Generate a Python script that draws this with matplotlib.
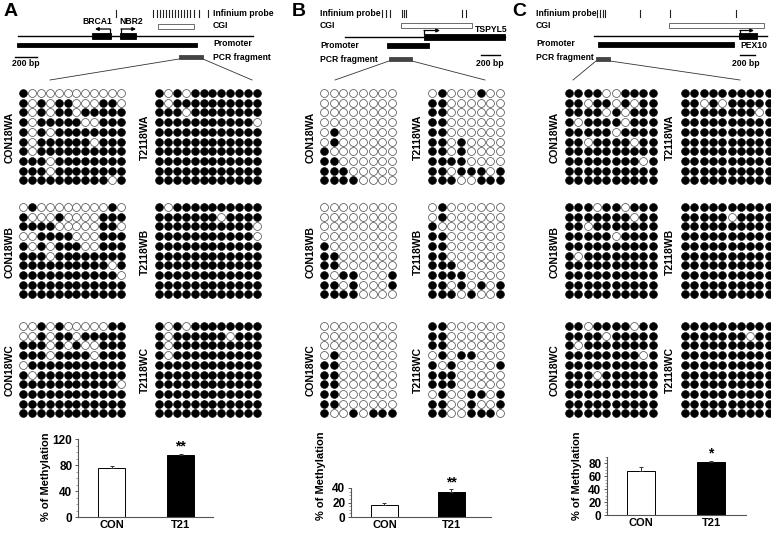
import numpy as np
import matplotlib
matplotlib.use("Agg")
import matplotlib.pyplot as plt
from matplotlib.patches import Rectangle

plt.rcParams['font.family'] = ['Liberation Sans', 'DejaVu Sans']
plt.rcParams['font.weight'] = 'bold'

# ---------------- data ----------------
groups = ["CON", "T21"]
A_means = [75, 96]
A_err = [4, 1]
B_means = [17, 34]
B_err = [3, 4]
C_means = [68, 82]
C_err = [6, 2]
sig_marks = ["**", "**", "*"]

# methylation patterns (1 = methylated / filled)
A_CON18WA = ["100000000000", "101011000110", "101011011111", "101111100111", "101011111111",
             "101111110111", "101111111111", "111011111111", "111011111111", "111111111101"]
A_T2118WA = ["101011111111", "101111111111", "111011111111", "111111111110", "111111111111",
             "111111111111", "111111111111", "111111111111", "111111111111", "111111111111"]
A_CON18WB = ["010000000010", "100010000111", "111100000110", "001111000111", "101011100111",
             "111011111111", "111111111101", "111111111110", "111111111111", "111111111111"]
A_T2118WB = ["101111111111", "111111101111", "111111111110", "111111111110", "111111111111",
             "111111111111", "111111111111", "111111111111", "111111111111", "111111111111"]
A_CON18WC = ["001010000011", "001011011111", "111010100111", "111011110111", "011111111111",
             "101111111111", "111111111110", "111111111111", "111111111111", "111111111111"]
A_T2118WC = ["101011111111", "101111110111", "101111111111", "101111111111", "111111111111",
             "111111111111", "111111111111", "111111111111", "111111111111", "111111111111"]

B_CON18WA = ["00000000", "00000000", "00000000", "00000000", "01000000",
             "01000000", "10000000", "11000000", "11100000", "11110000"]
B_T2118WA = ["01000100", "11000000", "11000000", "11000000", "11000000",
             "11010000", "11010000", "11110000", "11011101", "11100111"]
B_CON18WB = ["00000000", "00000000", "00000000", "00000000", "10000000",
             "11000000", "11000000", "10110001", "11010001", "11110000"]
B_T2118WB = ["01000000", "01000000", "10000000", "11000000", "11000000",
             "11000000", "11100000", "11110000", "11010101", "11101001"]
B_CON18WC = ["00000000", "00000000", "00000000", "01000000", "11000000",
             "11000000", "11000000", "11000000", "11000000", "10010111"]
B_T2118WC = ["11000000", "11000000", "11000000", "01011000", "10100001",
             "11100000", "11100000", "01001101", "11001001", "11001110"]

C_CON18WA = ["1111001111", "1101101011", "1111010111", "1011110111", "1111101111",
             "1101111011", "1111111111", "1111111101", "1111111111", "1111111111"]
C_T2118WA = ["1111111111", "1101011111", "1111111101", "1111111111", "1111111111",
             "1111111111", "1111111111", "1111111111", "1111111111", "1111111111"]
C_CON18WB = ["1110110111", "1111111011", "1101111111", "1111101111", "1111111111",
             "1011111111", "1111111111", "1111111111", "1111111111", "1111111111"]
C_T2118WB = ["1111111111", "1111101111", "1111111111", "1111111111", "1111111111",
             "1111111111", "1111111111", "1111111111", "1111111111", "1111111111"]
C_CON18WC = ["1101111011", "1111011111", "1011111111", "1111111101", "1111111111",
             "1110111111", "1111111111", "1111111111", "1111111111", "1111111111"]
C_T2118WC = ["1111111111", "1111111011", "1111111111", "1111111111", "1111111111",
             "1111111111", "1111111111", "1111111111", "1111111111", "1111111111"]

A_probes = [116, 153, 157, 160, 163, 166, 169, 172, 175, 178, 181, 184, 187, 190, 194, 199, 208]
B_probes = [382, 386, 390, 402, 404, 406, 462, 466]
C_probes = [597, 600, 603, 605, 640, 670, 736]

# ---------------- figure ----------------
W, H = 771, 533
fig = plt.figure(figsize=(W / 100, H / 100), dpi=100)
ax = fig.add_axes([0, 0, 1, 1])
ax.set_xlim(0, W)
ax.set_ylim(H, 0)
ax.axis('off')

LBL = 6.2


def txt(x, y, s, size=LBL, ha='left', va='center', **kw):
    ax.text(x, y, s, fontsize=size, ha=ha, va=va, fontweight='bold', **kw)


def rect(x0, x1, y0, y1, fc='black', ec='black', lw=0.6):
    ax.add_patch(Rectangle((x0, y0), x1 - x0, y1 - y0, facecolor=fc, edgecolor=ec, linewidth=lw))


def bent_arrow(x, y0, y1, x_end):
    ax.plot([x, x], [y0, y1], color='black', lw=0.9)
    ax.annotate('', xy=(x_end, y1), xytext=(x, y1),
                arrowprops=dict(arrowstyle='-|>', lw=0.9, color='black',
                                mutation_scale=5, shrinkA=0, shrinkB=0))


def probes(xs):
    for x in xs:
        ax.plot([x, x], [10, 17], color='#222222', lw=0.8)


def draw_grid(rows, x0, y0, dx, dy, s=32):
    arr = np.array([[int(c) for c in r] for r in rows])
    nr, nc = arr.shape
    jj, ii = np.meshgrid(np.arange(nc), np.arange(nr))
    xs = x0 + jj * dx
    ys = y0 + ii * dy
    f = arr == 1
    ax.scatter(xs[f], ys[f], s=s, c='black', edgecolors='black', linewidths=0.4, zorder=3)
    ax.scatter(xs[~f], ys[~f], s=s, facecolors='white', edgecolors='#444444', linewidths=0.5, zorder=3)


# ---- panel letters
for x, s in [(4, 'A'), (292, 'B'), (512, 'C')]:
    txt(x, 11, s, size=14)

# ---- panel A diagram
probes(A_probes)
txt(213, 13, 'Infinium probe')
txt(213, 26, 'CGI')
txt(213, 44, 'Promoter')
txt(213, 57, 'PCR fragment')
rect(158, 194, 24, 28.5, fc='white', ec='#555555')
ax.plot([18, 253], [36, 36], color='black', lw=1.0)
rect(92, 111, 33, 39)
rect(120, 136, 33, 39)
txt(97, 22, 'BRCA1', size=6.2, ha='center')
txt(131, 22, 'NBR2', size=6.2, ha='center')
bent_arrow(110, 33, 29, 95)
bent_arrow(121, 33, 29, 136)
rect(17, 197, 42.5, 47)
rect(179, 203, 54.5, 58.5, fc='#444444', ec='#444444')
ax.plot([15, 37], [56.5, 56.5], color='black', lw=1.0)
txt(26, 64, '200 bp', ha='center')
ax.plot([179, 50], [59, 80], color='#333333', lw=0.6)
ax.plot([203, 252], [59, 80], color='#333333', lw=0.6)

# ---- panel B diagram
probes(B_probes)
txt(320, 14, 'Infinium probe')
txt(320, 26, 'CGI')
txt(320, 45, 'Promoter')
txt(320, 59, 'PCR fragment')
rect(401, 472, 23, 28, fc='white', ec='#555555')
ax.plot([345, 505], [37, 37], color='black', lw=1.0)
rect(424, 505, 34, 40)
bent_arrow(424, 34, 30.5, 440)
txt(475, 29, 'TSPYL5')
rect(387, 429, 43, 48)
rect(389, 412, 56.5, 61, fc='#444444', ec='#444444')
ax.plot([481, 500], [55, 55], color='black', lw=1.0)
txt(490, 63, '200 bp', ha='center')
ax.plot([389, 335], [61, 80], color='#333333', lw=0.6)
ax.plot([412, 485], [61, 80], color='#333333', lw=0.6)

# ---- panel C diagram
probes(C_probes)
txt(536, 14, 'Infinium probe')
txt(536, 26, 'CGI')
txt(536, 44, 'Promoter')
txt(536, 58, 'PCR fragment')
rect(669, 764, 23, 28, fc='white', ec='#555555')
ax.plot([594, 767], [36, 36], color='black', lw=1.0)
rect(739, 757, 33, 39)
bent_arrow(740, 33, 30.5, 754)
rect(598, 734, 42, 47)
txt(740, 45, 'PEX10')
rect(596, 610, 56.5, 61, fc='#444444', ec='#444444')
ax.plot([740, 755], [55, 55], color='black', lw=1.0)
txt(746, 63, '200 bp', ha='center')
ax.plot([596, 573], [61, 80], color='#333333', lw=0.6)
ax.plot([610, 740], [61, 80], color='#333333', lw=0.6)

# ---- grids
row_y0 = {'WA': 93, 'WB': 207, 'WC': 326}
lab_y = {'WA': 137, 'WB': 252, 'WC': 370}
DY = 9.7
panels = [
    (A_CON18WA, A_T2118WA, A_CON18WB, A_T2118WB, A_CON18WC, A_T2118WC, 23, 159, 8.9, 10, 145),
    (B_CON18WA, B_T2118WA, B_CON18WB, B_T2118WB, B_CON18WC, B_T2118WC, 324, 432, 9.7, 311, 418),
    (C_CON18WA, C_T2118WA, C_CON18WB, C_T2118WB, C_CON18WC, C_T2118WC, 569, 685, 9.3, 555, 670),
]
for (cwa, twa, cwb, twb, cwc, twc, xc, xt, dx, lc, lt) in panels:
    for key, cg, tg in [('WA', cwa, twa), ('WB', cwb, twb), ('WC', cwc, twc)]:
        draw_grid(cg, xc, row_y0[key], dx, DY)
        draw_grid(tg, xt, row_y0[key], dx, DY)
        txt(lc, lab_y[key], 'CON18' + key, size=7.5, ha='center', rotation=90)
        txt(lt, lab_y[key], 'T2118' + key, size=7.5, ha='center', rotation=90)


# ---- bar charts
def bar_axes(px_left, px_right, px_bottom, px_top, means, err, ymax, yticks, minor, xlim, width, sig, lab_x, lab_y_px):
    bax = fig.add_axes([px_left / W, (H - px_bottom) / H, (px_right - px_left) / W, (px_bottom - px_top) / H])
    x = np.arange(len(groups))
    bax.bar(x, means, width=width, color=['white', 'black'], edgecolor='black', linewidth=0.7,
            yerr=[[0, 0], err], error_kw=dict(ecolor='#333333', elinewidth=0.7, capsize=1.5, capthick=0.7))
    bax.set_ylim(0, ymax)
    bax.set_xlim(*xlim)
    bax.set_yticks(yticks)
    bax.set_yticks(np.arange(0, ymax + 0.01, minor), minor=True)
    bax.set_xticks(x)
    bax.set_xticklabels(groups, fontsize=8, fontweight='bold')
    bax.tick_params(axis='x', length=0, pad=2.5)
    bax.tick_params(axis='y', which='major', length=2.5, width=0.7, labelsize=8.5, pad=1.5, color='#555555')
    bax.tick_params(axis='y', which='minor', length=1.5, width=0.5, color='#777777')
    for lbl in bax.get_yticklabels():
        lbl.set_fontweight('bold')
    for sp in ['top', 'right']:
        bax.spines[sp].set_visible(False)
    for sp in ['left', 'bottom']:
        bax.spines[sp].set_color('#555555')
        bax.spines[sp].set_linewidth(0.8)
    bax.text(1, means[1] + err[1], sig, ha='center', va='bottom', fontsize=10, fontweight='bold')
    fig.text(lab_x / W, (H - lab_y_px) / H, '% of Methylation', rotation=90, ha='center', va='center',
             fontsize=8, fontweight='bold')
    return bax


bar_axes(78, 213, 517, 439, A_means, A_err, 120, [0, 40, 80, 120], 10, (-0.486, 1.47), 0.39, sig_marks[0], 46, 477)
bar_axes(351, 491, 517, 488, B_means, B_err, 40, [0, 20, 40], 5, (-0.5, 1.59), 0.4, sig_marks[1], 321, 476)
bar_axes(607, 746, 515, 457, C_means, C_err, 90, [0, 20, 40, 60, 80], 5, (-0.486, 1.5), 0.4, sig_marks[2], 577, 476)

fig.savefig('out.png', dpi=100)
